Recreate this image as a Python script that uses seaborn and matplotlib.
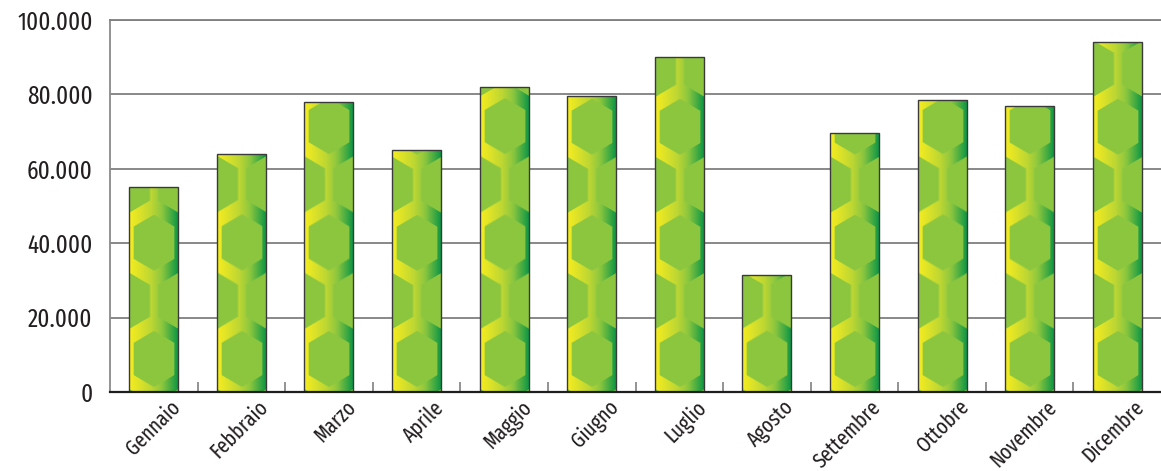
import numpy as np
import pandas as pd
import matplotlib
matplotlib.use("Agg")
import matplotlib.pyplot as plt
import seaborn as sns
from matplotlib.ticker import FuncFormatter, FixedLocator
import matplotlib.transforms as mtransforms

# ---- data ----
months = ["Gennaio", "Febbraio", "Marzo", "Aprile", "Maggio", "Giugno",
          "Luglio", "Agosto", "Settembre", "Ottobre", "Novembre", "Dicembre"]
values = [55000, 64000, 78000, 65000, 82000, 79500,
          90000, 31500, 69500, 78500, 77000, 94000]
y_ticks = [0, 20000, 40000, 60000, 80000, 100000]

# ---- style ----
sns.set_theme(style="white")
plt.rcParams['font.family'] = ['Fira Sans Extra Condensed', 'Fira Sans Condensed', 'DejaVu Sans']
TEXT = '#231f20'
HEX_GREEN = np.array([0.55, 0.78, 0.25])

fig = plt.figure(figsize=(11.61, 4.71), dpi=100)
ax = fig.add_axes([110 / 1161, 1 - 392 / 471, 1 - 110 / 1161, (392 - 20) / 471])

df = pd.DataFrame({"mese": months, "valore": values})
sns.barplot(data=df, x="mese", y="valore", color=HEX_GREEN, saturation=1,
            width=0.56, edgecolor='#3a3a3a', linewidth=1.0, ax=ax, zorder=3)

ax.set_xlim(-0.5, 11.5)
ax.set_ylim(0, 100000)

# ---- tread pattern ----
S, R, HW, A, B = 48.0, 58.0, 20.0, 16.0, 12.0
HH = A + B
Y0 = 33.0


def gap_colors(t):
    stops = [0.0, 0.45, 0.66, 1.0]
    cols = np.array([[0.97, 0.93, 0.12],
                     [0.74, 0.84, 0.20],
                     HEX_GREEN,
                     [0.02, 0.58, 0.27]])
    return np.stack([np.interp(t, stops, cols[:, k]) for k in range(3)], axis=-1)


def tread_image(wpx, hpx, ss=3):
    nw = max(1, int(round(wpx)))
    nh = max(1, int(round(hpx)))
    u = (np.arange(nw * ss) + 0.5) / ss * (wpx / nw)
    v = (np.arange(nh * ss) + 0.5) / ss * (hpx / nh)
    U, V = np.meshgrid(u, v)
    cx = wpx / 2.0

    def inside(ox, oy):
        dx = np.abs(((U - ox) + S / 2) % S - S / 2)
        dy = np.abs(((V - oy) + R) % (2 * R) - R)
        return (dx <= HW) & (dy <= HH - B * dx / HW)

    mask = inside(cx, Y0) | inside(cx + S / 2, Y0 + R)
    gap = gap_colors(U / wpx)
    img = np.where(mask[..., None], HEX_GREEN[None, None, :], gap)
    img = img.reshape(nh, ss, nw, ss, 3).mean(axis=(1, 3))
    return img


for patch in list(ax.patches):
    x0 = patch.get_x()
    w = patch.get_width()
    h = patch.get_height()
    p0 = ax.transData.transform((x0, 0))
    p1 = ax.transData.transform((x0 + w, h))
    wpx, hpx = p1[0] - p0[0], p1[1] - p0[1]
    img = tread_image(wpx, hpx)
    im = ax.imshow(img, origin='lower', extent=[x0, x0 + w, 0, h],
                   aspect='auto', interpolation='antialiased', zorder=3.5)
    im.set_clip_path(patch)
    patch.set_facecolor('none')
    patch.set_zorder(4)

ax.set_xlim(-0.5, 11.5)
ax.set_ylim(0, 100000)

# ---- axes styling ----
ax.set_xlabel("")
ax.set_ylabel("")
ax.set_yticks(y_ticks)
ax.yaxis.set_major_formatter(FuncFormatter(lambda v, p: f"{int(v):,}".replace(",", ".")))
ax.yaxis.grid(True, color='#7f7f7f', linewidth=1.3)
ax.xaxis.grid(False)
ax.set_axisbelow(True)

ax.spines['right'].set_visible(False)
ax.spines['top'].set_color('#7f7f7f')
ax.spines['top'].set_linewidth(1.3)
ax.spines['left'].set_color('#8a8a8a')
ax.spines['left'].set_linewidth(1.3)
ax.spines['bottom'].set_color('#1e1e1e')
ax.spines['bottom'].set_linewidth(1.6)
ax.spines['bottom'].set_zorder(5)

ax.tick_params(axis='y', length=0, pad=12.5, labelsize=18, labelcolor=TEXT)
ax.set_xticks(range(len(months)))
ax.set_xticklabels(months, rotation=45, ha='right', rotation_mode='anchor')
ax.tick_params(axis='x', which='major', length=0, pad=3, labelsize=15.5, labelcolor=TEXT)
ax.xaxis.set_minor_locator(FixedLocator(np.arange(0.5, 11.0, 1.0)))
ax.tick_params(axis='x', which='minor', direction='in', length=7, width=1.2,
               color='#808080', bottom=True)

offset = mtransforms.ScaledTranslation(0.16, 0, fig.dpi_scale_trans)
for lab in ax.get_xticklabels():
    lab.set_transform(lab.get_transform() + offset)

fig.savefig("out.png", dpi=100)
